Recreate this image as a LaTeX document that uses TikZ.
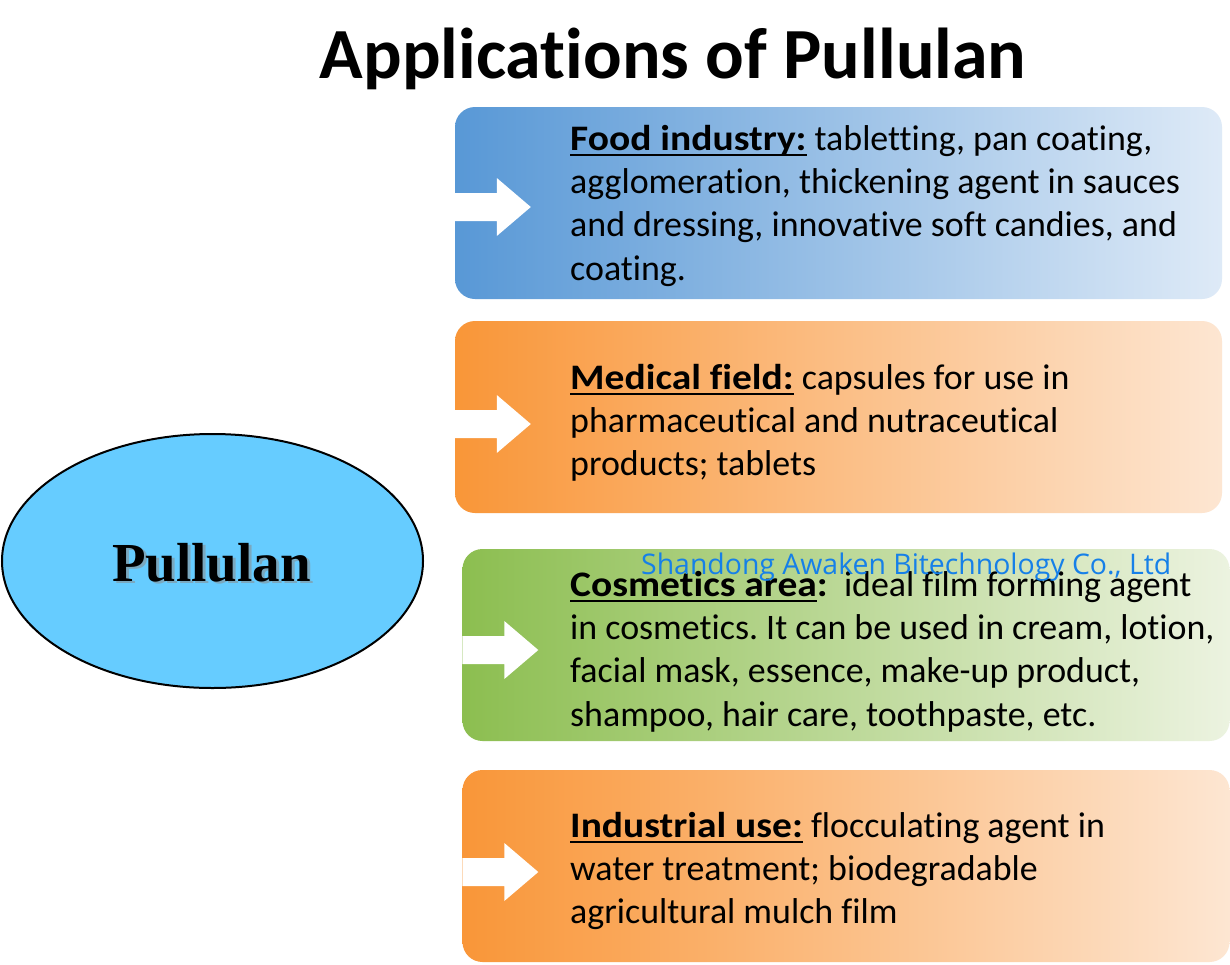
\documentclass[tikz,border=0pt]{standalone}
\usepackage{fontspec}
\setmainfont{Carlito}[Ligatures=NoCommon]
\newfontfamily\timesbold{Liberation Serif}[BoldFont={* Bold}]
\newfontfamily\wmfont{Open Sans}
\frenchspacing
\newsavebox\myulbox
\newcommand\myul[1]{\sbox\myulbox{#1}\rlap{\rule[-6pt]{\wd\myulbox}{2.4pt}}\usebox\myulbox}
\newcommand\lbl[1]{\scalebox{1.1}[1]{\textbf{#1}}}
\usetikzlibrary{shapes.geometric}
\definecolor{blueL}{RGB}{88,152,214}
\definecolor{blueR}{RGB}{222,234,247}
\definecolor{orangeL}{RGB}{249,150,56}
\definecolor{orangeR}{RGB}{253,230,210}
\definecolor{greenL}{RGB}{140,190,80}
\definecolor{greenR}{RGB}{236,243,224}
\definecolor{ellfill}{RGB}{102,204,255}
\definecolor{wmblue}{RGB}{22,128,232}
\tikzset{
  appbox/.style={rounded corners=20pt, minimum width=767pt, minimum height=192pt, inner sep=0pt, draw=none},
  apptext/.style={anchor=north west, inner sep=0pt, align=left, font=\fontsize{35.9}{43.3}\selectfont},
  rarrow/.pic={\fill[white] (0,-14) -- (42,-14) -- (42,-29) -- (76,0) -- (42,29) -- (42,14) -- (0,14) -- cycle;}
}
\begin{document}
\begin{tikzpicture}[x=1pt,y=-1pt]
\useasboundingbox[fill=white] (0,0) rectangle (1230,964);

% title
\node[anchor=base, inner sep=0pt, font=\fontsize{72}{80}\selectfont\bfseries] (title) at (673,78) {Applications of Pullulan};

% central ellipse
\node[ellipse, draw=black, line width=2pt, fill=ellfill, minimum width=421pt, minimum height=254pt, inner sep=0pt] (pul) at (212.5,561) {};
\node[anchor=base, inner sep=0pt, text=black!45, opacity=0.55, font=\fontsize{55}{60}\timesbold\bfseries] (pulshadow) at (214.5,583.5) {Pullulan};
\node[anchor=base, inner sep=0pt, font=\fontsize{55}{60}\timesbold\bfseries] (pultext) at (211.5,581) {Pullulan};

% boxes
\node[appbox, left color=blueL, right color=blueR] (food) at (838.5,203) {};
\node[appbox, left color=orangeL, right color=orangeR] (med) at (838.5,417) {};
\node[appbox, left color=greenL, right color=greenR] (cos) at (846,645) {};
\node[appbox, left color=orangeL, right color=orangeR] (ind) at (846,866) {};

% arrows
\path (food.west) ++(0,4) pic {rarrow};
\path (med.west) ++(0,7) pic {rarrow};
\path (cos.west) ++(0,5) pic {rarrow};
\path (ind.west) ++(0,6) pic {rarrow};

% texts
\node[apptext] (foodtxt) at (570,150-30.3) {\strut\myul{\lbl{Food industry:}} tabletting, pan coating,\\agglomeration, thickening agent in sauces\\and dressing, innovative soft candies, and\\coating.};
\node[apptext] (medtxt) at (570,389-30.3) {\strut\myul{\lbl{Medical field:}} capsules for use in\\pharmaceutical and nutraceutical\\products; tablets};
\node[apptext] (costxt) at (570,596-30.3) {\strut\myul{\lbl{Cosmetics area}}\lbl{:}\ \ ideal film forming agent\\in cosmetics. It can be used in cream, lotion,\\facial mask, essence, make-up product,\\shampoo, hair care, toothpaste, etc.};
\node[apptext] (indtxt) at (570,837-30.3) {\strut\myul{\lbl{Industrial use:}} flocculating agent in\\water treatment; biodegradable\\agricultural mulch film};

% watermark
\node[anchor=base west, inner sep=0pt, text=wmblue, font=\fontsize{28.4}{30}\wmfont] (wm) at (641,574) {Shandong Awaken Bitechnology Co., Ltd};
\end{tikzpicture}
\end{document}
